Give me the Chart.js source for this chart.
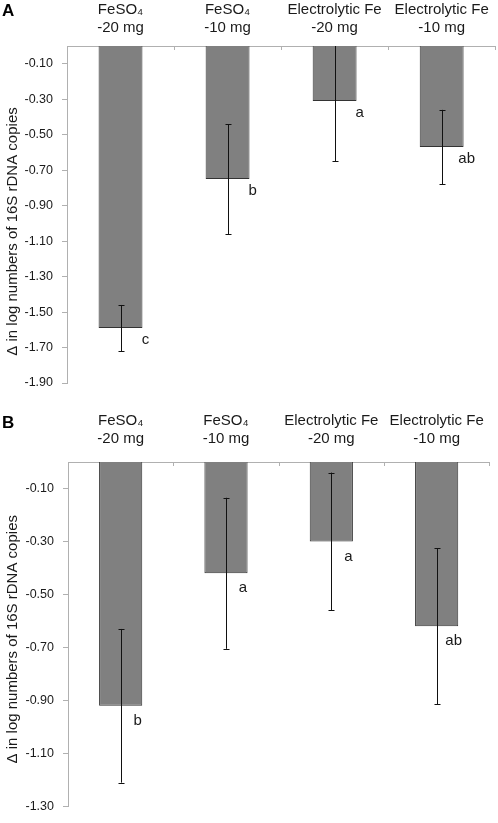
<!DOCTYPE html>
<html>
<head>
<meta charset="utf-8">
<script src="https://cdn.jsdelivr.net/npm/chart.js@4.4.1/dist/chart.umd.min.js"></script>
<style>
  html, body { margin: 0; padding: 0; background: #fff; }
  #wrap { position: relative; width: 498px; height: 823px; }
  .panel { position: absolute; left: 0; }
</style>
</head>
<body>
<div id="wrap">
  <canvas id="chartA" class="panel" style="top:0" width="498" height="405"></canvas>
  <canvas id="chartB" class="panel" style="top:405px" width="498" height="418"></canvas>
</div>
<script>
// categories (two-line labels)
const categories = [
    ['FeSO\u2084', '-20 mg'],
    ['FeSO\u2084', '-10 mg'],
    ['Electrolytic Fe', '-20 mg'],
    ['Electrolytic Fe', '-10 mg']
];

// panel A
const meanA = [-1.59, -0.75, -0.31, -0.57];
const errA = [0.13, 0.31, 0.34, 0.21];
const lettersA = ['c', 'b', 'a', 'ab'];
const ticksA = [-0.1, -0.3, -0.5, -0.7, -0.9, -1.1, -1.3, -1.5, -1.7, -1.9];

// panel B
const meanB = [-0.92, -0.42, -0.30, -0.62];
const errB = [0.29, 0.285, 0.26, 0.295];
const lettersB = ['b', 'a', 'a', 'ab'];
const ticksB = [-0.1, -0.3, -0.5, -0.7, -0.9, -1.1, -1.3];

const yTitle = '\u0394 in log numbers of 16S rDNA copies';
const FONT = '"Liberation Sans", Arial, sans-serif';
const TEXT = '#1a1a1a';
const AXIS = '#b0b0b0';

// error bars, letters, panel tag, y title, category ticks
const extras = {
    id: 'extras',
    afterDatasetsDraw(chart, args, opts) {
        const ctx = chart.ctx;
        const area = chart.chartArea;
        const y = chart.scales.y;
        const x = chart.scales.x;
        const meta = chart.getDatasetMeta(0);
        const mean = chart.data.datasets[0].data;

        ctx.save();
        // small category ticks hanging below top axis
        ctx.strokeStyle = AXIS;
        ctx.lineWidth = 1;
        const n = mean.length;
        for (let i = 0; i <= n; i++) {
            const px = Math.round(x.left + i * (x.width / n)) + 0.5;
            ctx.beginPath();
            ctx.moveTo(px, area.top);
            ctx.lineTo(px, area.top + 4);
            ctx.stroke();
        }

        // error bars
        ctx.strokeStyle = '#111';
        meta.data.forEach((bar, i) => {
            const cx = Math.round(bar.x) + 0.5;
            const hi = y.getPixelForValue(mean[i] + opts.err[i]);
            const lo = y.getPixelForValue(mean[i] - opts.err[i]);
            const top = Math.max(hi, area.top);
            ctx.beginPath();
            ctx.moveTo(cx, top);
            ctx.lineTo(cx, lo);
            ctx.stroke();
            [hi, lo].forEach(p => {
                if (p >= area.top) {
                    ctx.beginPath();
                    ctx.moveTo(cx - 3, Math.round(p) + 0.5);
                    ctx.lineTo(cx + 3, Math.round(p) + 0.5);
                    ctx.stroke();
                }
            });
            // significance letter
            ctx.fillStyle = TEXT;
            ctx.font = '15px ' + FONT;
            ctx.textAlign = 'center';
            ctx.textBaseline = 'middle';
            ctx.fillText(opts.letters[i], bar.x + opts.dx, bar.y + opts.dy);
        });

        // y title
        ctx.save();
        ctx.translate(13, (area.top + area.bottom) / 2 + opts.titleShift);
        ctx.rotate(-Math.PI / 2);
        ctx.font = '15px ' + FONT;
        ctx.fillStyle = TEXT;
        ctx.textAlign = 'center';
        ctx.textBaseline = 'middle';
        ctx.fillText(yTitle, 0, 0);
        ctx.restore();

        // panel tag
        ctx.font = 'bold 17px ' + FONT;
        ctx.fillStyle = '#000';
        ctx.textAlign = 'left';
        ctx.textBaseline = 'top';
        ctx.fillText(opts.tag, 2, opts.tagY);
        ctx.restore();
    }
};

function makeChart(id, mean, err, letters, ticks, cfg) {
    const ctx = document.getElementById(id).getContext('2d');
    return new Chart(ctx, {
        type: 'bar',
        data: {
            labels: categories,
            datasets: [{
                data: mean,
                backgroundColor: '#808080',
                borderColor: '#333333',
                borderWidth: 1,
                barPercentage: 0.41,
                categoryPercentage: 1.0
            }]
        },
        options: {
            responsive: false,
            animation: false,
            devicePixelRatio: 1,
            layout: { padding: { left: 0, right: 2, top: 0, bottom: cfg.padBottom } },
            plugins: {
                legend: { display: false },
                tooltip: { enabled: false },
                extras: {
                    err: err, letters: letters, dx: cfg.dx, dy: cfg.dy,
                    tag: cfg.tag, tagY: cfg.tagY, titleShift: cfg.titleShift
                }
            },
            scales: {
                x: {
                    position: 'top',
                    grid: { display: false, drawTicks: false },
                    border: { display: true, color: AXIS, width: 1 },
                    ticks: {
                        color: TEXT,
                        font: { family: FONT, size: 15, lineHeight: 1.2 },
                        padding: cfg.labelPad,
                        maxRotation: 0,
                        autoSkip: false
                    },
                    afterFit: s => { s.height = cfg.xHeight; }
                },
                y: {
                    min: ticks[ticks.length - 1],
                    max: 0,
                    afterBuildTicks: s => { s.ticks = ticks.map(v => ({ value: v })); },
                    afterFit: s => { s.width = cfg.yWidth; },
                    grid: { display: true, drawOnChartArea: false, tickLength: 5, color: AXIS },
                    border: { display: true, color: AXIS, width: 1 },
                    ticks: {
                        color: TEXT,
                        font: { family: FONT, size: 12.5 },
                        padding: 9,
                        callback: v => v.toFixed(2)
                    }
                }
            }
        },
        plugins: [extras]
    });
}

makeChart('chartA', meanA, errA, lettersA, ticksA, {
    padBottom: 22, xHeight: 46, yWidth: 67, labelPad: 9,
    dx: 25, dy: 12, tag: 'A', tagY: 3, titleShift: 17
});
makeChart('chartB', meanB, errB, lettersB, ticksB, {
    padBottom: 6, xHeight: 57, yWidth: 68, labelPad: 14,
    dx: 17, dy: 15, tag: 'B', tagY: 10, titleShift: 5
});
</script>
</body>
</html>
